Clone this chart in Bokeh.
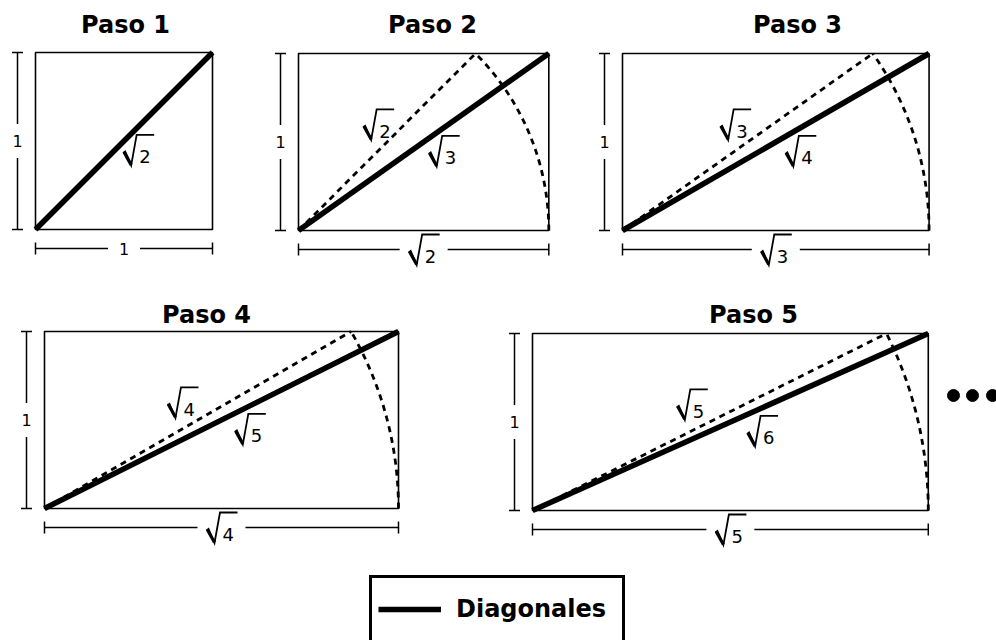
import math
import numpy as np
from bokeh.plotting import figure
from bokeh.models import Range1d, Legend, LegendItem, ColumnDataSource
from bokeh.embed import file_html
from bokeh.resources import INLINE
from bokeh.core.properties import value

# ---------------- data ----------------
step_titles = ["Paso 1", "Paso 2", "Paso 3", "Paso 4", "Paso 5"]
width_radicands = [1, 2, 3, 4, 5]        # base of rectangle n = sqrt(n)
rect_heights = [1, 1, 1, 1, 1]           # every rectangle has height 1
diagonal_radicands = [2, 3, 4, 5, 6]     # diagonal of rectangle n = sqrt(n+1)
previous_radicands = [None, 2, 3, 4, 5]  # previous diagonal (dashed), swung onto the base
height_label = "1"
width_labels = ["1", "2", "3", "4", "5"]  # "1" plain, others shown under a radical
legend_label = "Diagonales"

# ---------------- layout ----------------
W, H = 996, 640
S = 177.0  # pixels per unit


def ux(X):
    return X / S


def uy(Y):
    return (H - Y) / S


def px(v):
    return v / S


origins_px = [(35, 229), (298, 230), (622, 230), (44, 508), (532, 510)]
title_px = [(125, 24), (432, 24), (797, 24), (206, 314), (753, 314)]
dots_px = [(953, 395), (972, 395), (992, 395)]
FONT_NAME = "DejaVu Sans"
FONT = value(FONT_NAME)

p = figure(width=W, height=H, x_range=Range1d(0, W / S), y_range=Range1d(0, H / S),
           output_backend="svg", toolbar_location=None,
           x_axis_location=None, y_axis_location=None,
           min_border=0, outline_line_color=None, background_fill_color="white")
p.grid.grid_line_color = None

widths = np.sqrt(np.array(width_radicands, dtype=float))
ox = [ux(o[0]) for o in origins_px]
oy = [uy(o[1]) for o in origins_px]

# rectangles
p.quad(left=ox, right=[x + w for x, w in zip(ox, widths)],
       bottom=oy, top=[y + h for y, h in zip(oy, rect_heights)],
       fill_alpha=0, line_color="black", line_width=1.6)

# previous diagonal (dashed) and its arc down to the base
dxs, dys = [], []
for i, r in enumerate(previous_radicands):
    if r is None:
        continue
    top_x = math.sqrt(r - 1)
    dxs.append([ox[i], ox[i] + top_x])
    dys.append([oy[i], oy[i] + rect_heights[i]])
    ang = math.atan2(rect_heights[i], top_x)
    p.arc(x=ox[i], y=oy[i], radius=math.sqrt(r), start_angle=0, end_angle=ang,
          line_color="black", line_width=2.8, line_dash="6 5")
p.multi_line(xs=dxs, ys=dys, line_color="black", line_width=2.8, line_dash="6 5")

# diagonals
diag_r = p.multi_line(xs=[[x, x + w] for x, w in zip(ox, widths)],
                      ys=[[y, y + h] for y, h in zip(oy, rect_heights)],
                      line_color="black", line_width=5.5)

# dimension lines
seg = dict(x0=[], y0=[], x1=[], y1=[])


def add_seg(a, b, c, d):
    seg["x0"].append(a); seg["y0"].append(b); seg["x1"].append(c); seg["y1"].append(d)


plain_lbl = dict(x=[], y=[], t=[])
sq = dict(cx=[], cy=[], t=[])

for i in range(5):
    w = widths[i]
    h = rect_heights[i]
    # vertical (height)
    vx = ox[i] - px(18)
    mid = oy[i] + h / 2
    add_seg(vx, oy[i], vx, mid - px(17))
    add_seg(vx, mid + px(17), vx, oy[i] + h)
    add_seg(vx - px(5.5), oy[i], vx + px(5.5), oy[i])
    add_seg(vx - px(5.5), oy[i] + h, vx + px(5.5), oy[i] + h)
    plain_lbl["x"].append(vx); plain_lbl["y"].append(mid); plain_lbl["t"].append(height_label)
    # horizontal (base)
    hy = oy[i] - px(19)
    cx = ox[i] + w / 2
    gap = px(16) if width_radicands[i] == 1 else px(24)
    add_seg(ox[i], hy, cx - gap, hy)
    add_seg(cx + gap, hy, ox[i] + w, hy)
    add_seg(ox[i], hy - px(6), ox[i], hy + px(6))
    add_seg(ox[i] + w, hy - px(6), ox[i] + w, hy + px(6))
    if width_radicands[i] == 1:
        plain_lbl["x"].append(cx); plain_lbl["y"].append(hy); plain_lbl["t"].append(width_labels[i])
    else:
        sq["cx"].append(cx); sq["cy"].append(hy); sq["t"].append(width_labels[i])
    # diagonal label
    sq["cx"].append(ox[i] + 0.58 * w); sq["cy"].append(oy[i] + 0.45 * h)
    sq["t"].append(str(diagonal_radicands[i]))
    # previous-diagonal label
    if previous_radicands[i] is not None:
        sq["cx"].append(ox[i] + 0.45 * math.sqrt(previous_radicands[i] - 1))
        sq["cy"].append(oy[i] + 0.60 * h)
        sq["t"].append(str(previous_radicands[i]))

p.segment(x0="x0", y0="y0", x1="x1", y1="y1", source=ColumnDataSource(seg),
          line_color="black", line_width=1.5)

p.text(x="x", y="y", text="t", source=ColumnDataSource(plain_lbl),
       text_font=FONT, text_font_size="16px", text_align="center",
       text_baseline="middle", text_color="black")

# square-root labels: radical sign (drawn), vinculum and radicand text
# label box: left L = cx - 15 px, top T = cy + 15.5 px
rad_xs, rad_ys, stem_x0, stem_y0, stem_x1, stem_y1 = [], [], [], [], [], []
for cx, cy in zip(sq["cx"], sq["cy"]):
    L = cx - px(15)
    T = cy + px(15.5)
    rad_xs.append([L, L + px(2), L + px(8), L + px(13.5), L + px(31)])
    rad_ys.append([T - px(18.5), T - px(17), T - px(31), T - px(0.5), T - px(0.5)])
    stem_x0.append(L + px(0.8)); stem_y0.append(T - px(17.5))
    stem_x1.append(L + px(8)); stem_y1.append(T - px(30.5))
p.multi_line(xs=rad_xs, ys=rad_ys, line_color="black", line_width=1.8,
             line_join="miter")
p.segment(x0=stem_x0, y0=stem_y0, x1=stem_x1, y1=stem_y1,
          line_color="black", line_width=3.2)
p.text(x=[c + px(1) for c in sq["cx"]], y=[c - px(7) for c in sq["cy"]], text=sq["t"],
       text_font=FONT, text_font_size="18px", text_align="left",
       text_baseline="middle", text_color="black")

# titles
p.text(x=[ux(t[0]) for t in title_px], y=[uy(t[1]) for t in title_px], text=step_titles,
       text_font=FONT, text_font_size="24px", text_font_style="bold",
       text_align="center", text_baseline="middle", text_color="black")

# continuation dots
p.scatter(x=[ux(d[0]) for d in dots_px], y=[uy(d[1]) for d in dots_px],
          size=12, color="black")

legend = Legend(items=[LegendItem(label=legend_label, renderers=[diag_r])],
                location=(369, -3), orientation="vertical",
                border_line_color="black", border_line_width=3, border_line_alpha=1,
                background_fill_color="white", background_fill_alpha=1,
                padding=6, margin=0, glyph_width=63, glyph_height=50,
                label_standoff=15, label_width=160, label_height=50, spacing=0,
                label_text_font=FONT_NAME, label_text_font_size="24px",
                label_text_font_style="bold", label_text_color="black")
p.add_layout(legend)

open("out.html", "w").write(file_html(p, INLINE))
